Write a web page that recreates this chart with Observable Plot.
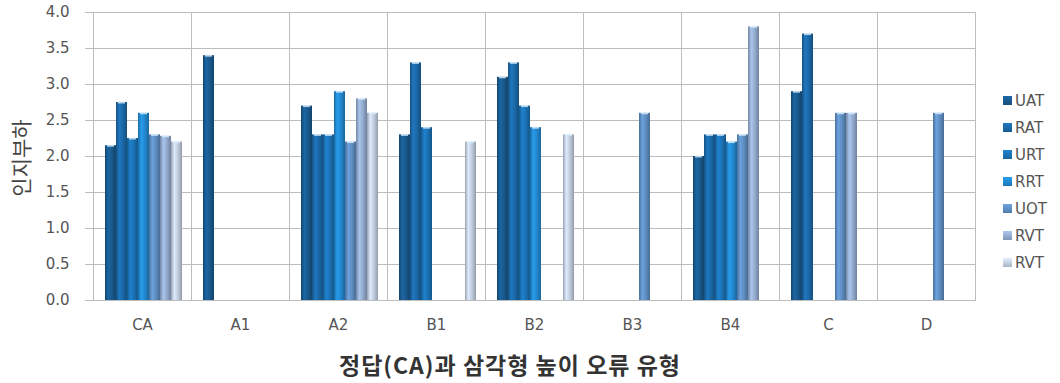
<!DOCTYPE html>
<html>
<head>
<meta charset="utf-8">
<script src="https://cdn.jsdelivr.net/npm/d3@7"></script>
<script src="https://cdn.jsdelivr.net/npm/@observablehq/plot@0.6"></script>
<style>
  html, body { margin: 0; padding: 0; background: #fff; }
  #chart { position: relative; width: 1060px; height: 383px; font-family: "DejaVu Sans", sans-serif; }
  #chart svg { position: absolute; left: 0; top: 0; }
  .ytitle {
    position: absolute; left: 20px; top: 158px;
    transform: translate(-50%, -50%) rotate(-90deg);
    font-family: "Noto Sans CJK KR", sans-serif; font-size: 21px; color: #444; white-space: nowrap;
  }
  .xtitle {
    position: absolute; left: 510px; top: 364px; transform: translate(-50%, -50%);
    font-family: "Noto Sans CJK KR", sans-serif; font-size: 23px; letter-spacing: 1px; font-weight: 600; color: #333; white-space: nowrap;
  }
  .legend { position: absolute; left: 1003px; top: 87px; }
  .legend .item { height: 27px; display: flex; align-items: center; font-size: 15px; color: #555; }
  .legend .sw { width: 9px; height: 9px; margin-right: 3px; }
</style>
</head>
<body>
<div id="chart">
  <div class="ytitle">인지부하</div>
  <div class="xtitle">정답(CA)과 삼각형 높이 오류 유형</div>
  <div class="legend" id="legend"></div>
</div>
<script>
// Error-type groups along the x axis
const groups = ["CA", "A1", "A2", "B1", "B2", "B3", "B4", "C", "D"];

// Series shown in the legend (order of bars inside each group)
const seriesLabels = ["UAT", "RAT", "URT", "RRT", "UOT", "RVT", "RVT"];

// Mean cognitive load per group, one array per series (null = no bar)
const UAT  = [2.15, 3.4, 2.7, 2.3, 3.1, null, 2.0, 2.9, null];
const RAT  = [2.75, null, 2.3, 3.3, 3.3, null, 2.3, 3.7, null];
const URT  = [2.25, null, 2.3, 2.4, 2.7, null, 2.3, null, null];
const RRT  = [2.6, null, 2.9, null, 2.4, null, 2.2, null, null];
const UOT  = [2.3, null, 2.2, null, null, 2.6, 2.3, 2.6, 2.6];
const RVT1 = [2.28, null, 2.8, null, null, null, 3.8, 2.6, null];
const RVT2 = [2.2, null, 2.6, 2.2, 2.3, null, null, null, null];

const seriesValues = [UAT, RAT, URT, RRT, UOT, RVT1, RVT2];

// Y axis ticks
const yTicks = [0, 0.5, 1, 1.5, 2, 2.5, 3, 3.5, 4];

// Base colours of the cylinders
const seriesColors = ["#195a8f", "#1b69a8", "#1b73b6", "#2289d0", "#5f8fc4", "#95add1", "#c3cfe1"];

const seriesKeys = seriesLabels.map((_, i) => i);
const rows = [];
seriesValues.forEach((vals, si) => {
  vals.forEach((v, gi) => {
    if (v != null) rows.push({group: groups[gi], series: si, value: v});
  });
});

const gradIds = seriesKeys.map(i => `cyl-${i}`);

const svg = Plot.plot({
  width: 1060,
  height: 383,
  marginLeft: 92,
  marginRight: 85,
  marginTop: 12,
  marginBottom: 83,
  style: {fontFamily: "DejaVu Sans, sans-serif", fontSize: "15px", color: "#555", background: "transparent"},
  fx: {domain: groups, padding: 0, label: null},
  x: {domain: seriesKeys, paddingInner: 0, paddingOuter: 0.74, align: 0.56, axis: null},
  y: {domain: [0, 4], label: null},
  color: {type: "ordinal", domain: seriesKeys, range: gradIds.map(id => `url(#${id})`)},
  marks: [
    Plot.gridY(yTicks, {stroke: "#bdbdbd", strokeOpacity: 1}),
    Plot.frame({stroke: "#bdbdbd"}),
    Plot.barY(rows, {fx: "group", x: "series", y: "value", fill: "series", insetLeft: 0, insetRight: 0}),
    Plot.tickY(rows, {fx: "group", x: "series", y: "value", stroke: "#d9ecfb", strokeWidth: 2, strokeOpacity: 0.8, insetLeft: 2, insetRight: 2}),
    Plot.axisY(yTicks, {tickFormat: d3.format(".1f"), tickSize: 8, tickPadding: 16, stroke: "#bdbdbd", fill: "#555", fontSize: 15, label: null}),
    Plot.axisFx({anchor: "bottom", tickSize: 0, tickPadding: 19, fill: "#555", fontSize: 15, label: null})
  ]
});

// Cylinder-like shading for each series
const defs = d3.select(svg).insert("defs", ":first-child");
seriesColors.forEach((c, i) => {
  const base = d3.color(c);
  const g = defs.append("linearGradient").attr("id", gradIds[i]).attr("x1", 0).attr("x2", 1).attr("y1", 0).attr("y2", 0);
  g.append("stop").attr("offset", "0%").attr("stop-color", base.darker(0.7));
  g.append("stop").attr("offset", "30%").attr("stop-color", base.brighter(0.35));
  g.append("stop").attr("offset", "60%").attr("stop-color", base);
  g.append("stop").attr("offset", "100%").attr("stop-color", base.darker(0.8));
});

document.getElementById("chart").prepend(svg);

// Legend on the right
const legend = document.getElementById("legend");
seriesLabels.forEach((label, i) => {
  const base = d3.color(seriesColors[i]);
  const item = document.createElement("div");
  item.className = "item";
  const sw = document.createElement("span");
  sw.className = "sw";
  sw.style.background = `linear-gradient(180deg, ${base.brighter(0.4)}, ${base.darker(0.4)})`;
  item.appendChild(sw);
  item.appendChild(document.createTextNode(label));
  legend.appendChild(item);
});
</script>
</body>
</html>
